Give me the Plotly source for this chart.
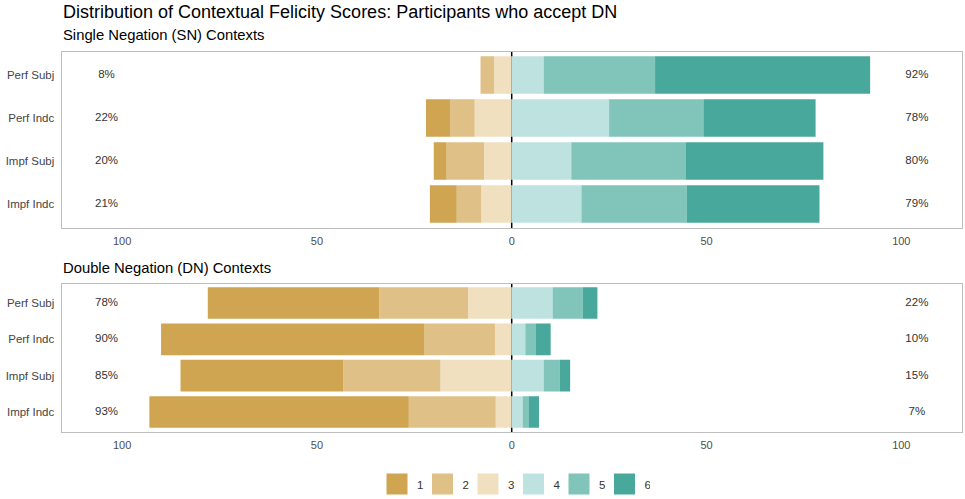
import plotly.graph_objects as go

# Response contexts (rows, top to bottom) and rating levels
categories = ["Perf Subj", "Perf Indc", "Impf Subj", "Impf Indc"]
levels = ["1", "2", "3", "4", "5", "6"]
level_colors = ["#CFA552", "#DFC187", "#F0E0C0", "#BEE2DF", "#80C4BA", "#48A89B"]

# Single Negation (SN) contexts: percentage of responses at each level
sn_1 = [0.0, 6.3, 3.3, 6.9]
sn_2 = [3.5, 6.2, 9.6, 6.3]
sn_3 = [4.5, 9.5, 7.1, 7.8]
sn_4 = [8.2, 25.0, 15.3, 17.9]
sn_5 = [28.6, 24.2, 29.3, 27.0]
sn_6 = [55.2, 28.8, 35.4, 34.1]

# Double Negation (DN) contexts
dn_1 = [44.0, 67.5, 41.8, 66.6]
dn_2 = [22.8, 18.2, 24.9, 22.3]
dn_3 = [11.2, 4.3, 18.3, 4.1]
dn_4 = [10.5, 3.5, 8.2, 2.8]
dn_5 = [7.7, 2.6, 4.1, 1.5]
dn_6 = [3.8, 3.9, 2.7, 2.7]

x_ticks = [-100, -50, 0, 50, 100]
x_tick_labels = ["100", "50", "0", "50", "100"]

FONT = "Liberation Sans, Arial, sans-serif"
W, H = 965, 499

fig = go.Figure()


def add_panel(levels_data, xa, ya):
    # disagree side stacks leftwards from zero: 3 nearest, then 2, then 1
    for idx in (2, 1, 0):
        fig.add_trace(go.Bar(
            y=categories, x=[-v for v in levels_data[idx]], orientation="h",
            marker=dict(color=level_colors[idx], line=dict(width=0)),
            xaxis=xa, yaxis=ya, showlegend=False, hoverinfo="skip",
        ))
    # agree side stacks rightwards: 4, 5, 6
    for idx in (3, 4, 5):
        fig.add_trace(go.Bar(
            y=categories, x=levels_data[idx], orientation="h",
            marker=dict(color=level_colors[idx], line=dict(width=0)),
            xaxis=xa, yaxis=ya, showlegend=False, hoverinfo="skip",
        ))
    low = [sum(levels_data[i][r] for i in range(3)) for r in range(len(categories))]
    high = [sum(levels_data[i][r] for i in range(3, 6)) for r in range(len(categories))]
    for xpos, totals in ((-104, low), (104, high)):
        fig.add_trace(go.Scatter(
            x=[xpos] * len(categories), y=categories, mode="text",
            text=[f"{round(t)}%" for t in totals],
            textfont=dict(family=FONT, size=11.5, color="#333333"),
            xaxis=xa, yaxis=ya, showlegend=False, hoverinfo="skip",
        ))


add_panel([sn_1, sn_2, sn_3, sn_4, sn_5, sn_6], "x", "y")
add_panel([dn_1, dn_2, dn_3, dn_4, dn_5, dn_6], "x2", "y2")

# legend entries
for lvl, col in zip(levels, level_colors):
    fig.add_trace(go.Scatter(
        x=[None], y=[None], mode="markers", name=lvl,
        marker=dict(symbol="square", size=16, color=col, line=dict(color=col, width=5)),
        xaxis="x", yaxis="y",
    ))

x_dom = [61.7 / W, 961.7 / W]
axis_common = dict(
    range=[-115.5, 115.5], tickvals=x_ticks, ticktext=x_tick_labels,
    showgrid=False, zeroline=False, showline=True, mirror=True,
    linecolor="#BEBEBE", linewidth=1.3, ticks="", ticklabelstandoff=3,
    tickfont=dict(family=FONT, size=11, color="#4D4D4D"),
    domain=x_dom, fixedrange=True,
)
yaxis_common = dict(
    type="category", categoryarray=categories[::-1],
    showgrid=False, zeroline=False, showline=True, mirror=True,
    linecolor="#BEBEBE", linewidth=1.3, ticks="",
    tickfont=dict(family=FONT, size=11.5, color="#444444"),
    ticklabelstandoff=4, fixedrange=True,
)

fig.update_layout(
    template="none",
    width=W, height=H,
    margin=dict(l=0, r=0, t=0, b=0),
    paper_bgcolor="white", plot_bgcolor="white",
    barmode="relative", bargap=0.13,
    font=dict(family=FONT, color="#333333"),
    xaxis=dict(axis_common, anchor="y"),
    xaxis2=dict(axis_common, anchor="y2"),
    yaxis=dict(yaxis_common, domain=[1 - 228 / H, 1 - 52 / H], range=[-0.56, 3.535], anchor="x"),
    yaxis2=dict(yaxis_common, domain=[1 - 432 / H, 1 - 284 / H], range=[-0.55, 3.523], anchor="x2"),
    legend=dict(
        orientation="h", x=377 / W, xanchor="left", y=1 - 484 / H, yanchor="middle",
        font=dict(family=FONT, size=11.5, color="#333333"),
        entrywidth=0.5, entrywidthmode="pixels", bgcolor="rgba(0,0,0,0)",
    ),
    shapes=[
        dict(type="line", xref="x", yref="y domain", x0=0, x1=0, y0=0, y1=1,
             line=dict(color="black", width=1.5), layer="below"),
        dict(type="line", xref="x2", yref="y2 domain", x0=0, x1=0, y0=0, y1=1,
             line=dict(color="black", width=1.5), layer="below"),
    ],
    annotations=[
        dict(text="Distribution of Contextual Felicity Scores: Participants who accept DN",
             xref="paper", yref="paper", x=61 / W, y=1 - 12.5 / H, xanchor="left", yanchor="middle",
             showarrow=False, font=dict(family=FONT, size=18, color="black")),
        dict(text="Single Negation (SN) Contexts",
             xref="paper", yref="paper", x=61 / W, y=1 - 35 / H, xanchor="left", yanchor="middle",
             showarrow=False, font=dict(family=FONT, size=14.8, color="black")),
        dict(text="Double Negation (DN) Contexts",
             xref="paper", yref="paper", x=61 / W, y=1 - 268 / H, xanchor="left", yanchor="middle",
             showarrow=False, font=dict(family=FONT, size=14.8, color="black")),
    ],
)

fig.write_html("out.html")
